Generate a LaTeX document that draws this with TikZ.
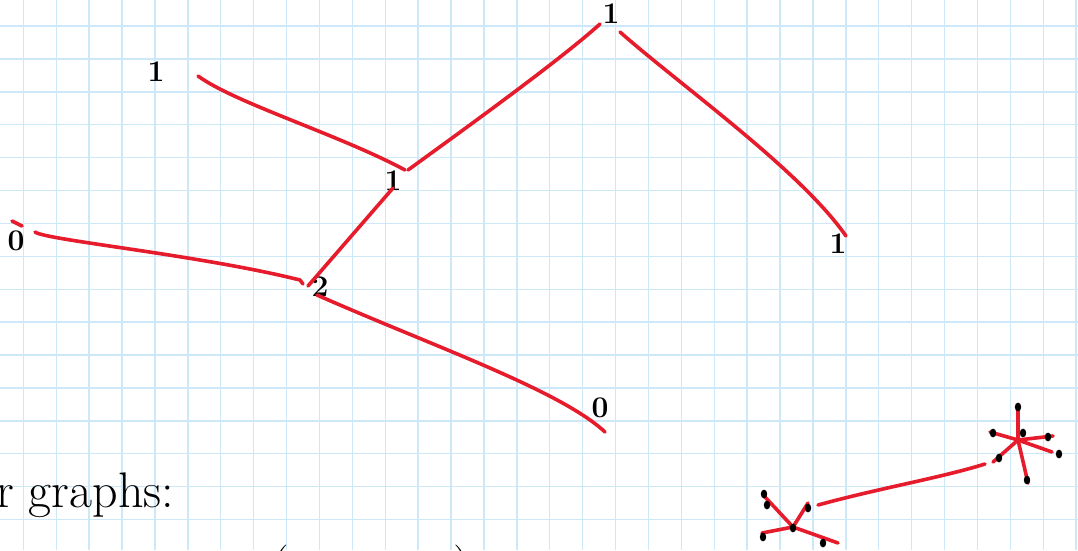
\documentclass[tikz,border=0pt]{standalone}
\definecolor{pen}{RGB}{230,28,44}
\definecolor{gridblue}{RGB}{205,232,248}
\tikzset{
ink/.style={draw=pen,line width=3.6pt,line cap=round,line join=round},
digit/.style={font=\bfseries\fontsize{30}{30}\selectfont,inner sep=0pt},
dot/.style={fill=black}
}
\begin{document}
\begin{tikzpicture}[x=1pt,y=-1pt]
\useasboundingbox (0,0) rectangle (1078,550);
\clip (0,0) rectangle (1078,550);
\fill[white] (0,0) rectangle (1078,550);
% squared paper
\foreach \i in {0,...,32} \draw[gridblue,line width=1.4pt] (23.3+32.9*\i,0) -- ++(0,550);
\foreach \j in {0,...,16} \draw[gridblue,line width=1.4pt] (0,26+32.9*\j) -- ++(1078,0);
\path
(156,72) coordinate (A)
(611,14) coordinate (R)
(393,181) coordinate (B)
(16,241) coordinate (C)
(320,287) coordinate (D)
(838,244) coordinate (E)
(600,408) coordinate (F)
(198,76) coordinate (a1)
(405,170) coordinate (a2)
(408,170) coordinate (b1)
(600,24) coordinate (b2)
(620,32) coordinate (c1)
(846,236) coordinate (c2)
(393,188) coordinate (d1)
(308,286) coordinate (d2)
(35,232) coordinate (e1)
(300,280) coordinate (e2)
(317,295) coordinate (f1)
(605,432) coordinate (f2)
(793,527) coordinate (S)
(1018,440) coordinate (T)
(818,505) coordinate (s1)
(985,464) coordinate (t1)
;
\foreach \x/\t in {A/1,R/1,B/1,C/0,D/2,E/1,F/0}
\node[digit] (n\x) at (\x) {\t};
% the tree
\draw[ink] (a1) .. controls (235,103) and (340,135) .. (a2);
\draw[ink] (b1) .. controls (470,125) and (560,60) .. (b2);
\draw[ink] (c1) .. controls (680,85) and (800,170) .. (c2);
\draw[ink] (d1) -- (d2);
\draw[ink] (e1) .. controls (45,240) and (200,255) .. (e2) -- ++(3,4);
\draw[ink] (12,221) -- (22,226);
\draw[ink] (f1) .. controls (430,345) and (560,390) .. (f2);
% two small stars
\foreach \p in {(765,497),(808,503),(762,533),(838,543)}
\draw[ink] (S) -- \p;
\foreach \p in {(1018,408),(990,432),(1053,436),(1052,452),(1028,483),(993,462)}
\draw[ink] (T) -- \p;
\draw[ink] (s1) .. controls (880,488) and (940,478) .. (t1);
\foreach \p in {(764,494),(767,505),(808,508),(763,537),(823,543),(793,528),
(1018,407),(993,433),(1023,433),(1048,437),(1059,454),(1027,480),(999,458)}
\fill[dot] \p ellipse (3.2pt and 4.4pt);
% notes
\node[anchor=base west,inner sep=0pt,font=\fontsize{50}{50}\selectfont] (note) at (-4,507) {r graphs:};
\node[anchor=base,inner sep=0pt,font=\fontsize{50}{50}\selectfont] (lpar) at (280,582) {(};
\node[anchor=base,inner sep=0pt,font=\fontsize{50}{50}\selectfont] (rpar) at (462,582) {)};
\end{tikzpicture}
\end{document}
